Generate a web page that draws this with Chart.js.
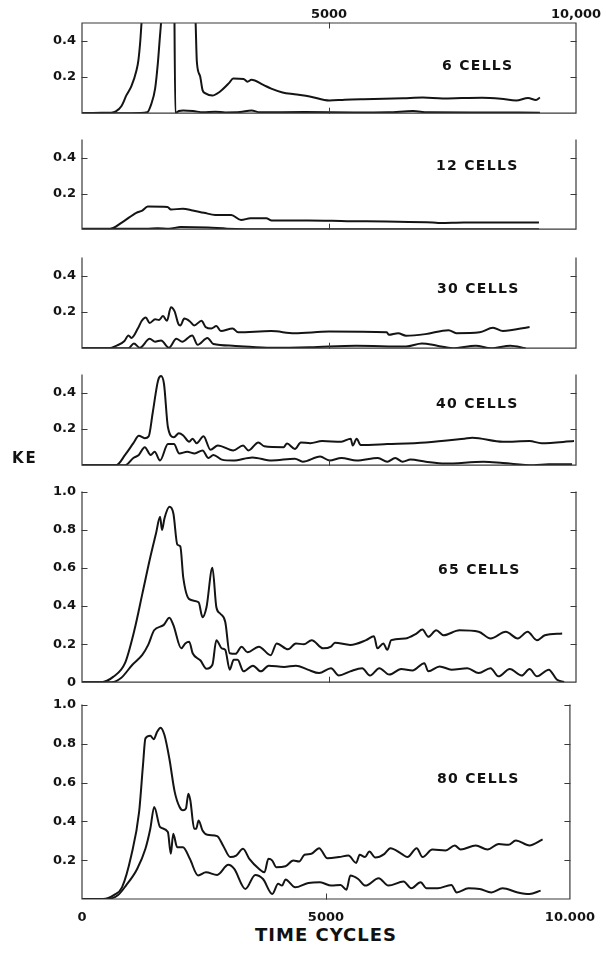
<!DOCTYPE html>
<html><head><meta charset="utf-8">
<script src="https://cdn.jsdelivr.net/npm/chart.js@4"></script>
<style>
html,body{margin:0;padding:0;background:#fff;}
body{width:606px;height:953px;position:relative;overflow:hidden;font-family:"DejaVu Sans",sans-serif;}
canvas.pc{position:absolute;left:0;}
.lbl{position:absolute;font-weight:bold;color:#111;white-space:nowrap;line-height:1;}
</style></head><body>
<canvas class="pc" id="c1"></canvas>
<canvas class="pc" id="c2"></canvas>
<canvas class="pc" id="c3"></canvas>
<canvas class="pc" id="c4"></canvas>
<canvas class="pc" id="c5"></canvas>
<canvas class="pc" id="c6"></canvas>
<div class="lbl" style="left:442px;top:58px;font-size:14px;letter-spacing:1.3px">6 CELLS</div>
<div class="lbl" style="left:436px;top:158px;font-size:14px;letter-spacing:1.3px">12 CELLS</div>
<div class="lbl" style="left:437px;top:281px;font-size:14px;letter-spacing:1.3px">30 CELLS</div>
<div class="lbl" style="left:436px;top:396px;font-size:14px;letter-spacing:1.3px">40 CELLS</div>
<div class="lbl" style="left:438px;top:562px;font-size:14px;letter-spacing:1.3px">65 CELLS</div>
<div class="lbl" style="left:437px;top:771px;font-size:14px;letter-spacing:1.3px">80 CELLS</div>
<div class="lbl" style="left:12px;top:451px;font-size:15px;letter-spacing:2px">KE</div>
<div class="lbl" style="left:255px;top:926px;font-size:18px;letter-spacing:1px">TIME CYCLES</div>
<script>
// ---------- data ----------
const xTickValsTop = [5000, 10000];
const xTickValsBottom = [0, 5000, 10000];
const yTicksSmall = [0.2, 0.4];
const yTicksBig5 = [0, 0.2, 0.4, 0.6, 0.8, 1.0];
const yTicksBig6 = [0.2, 0.4, 0.6, 0.8, 1.0];

// 6 cells
const p1UpperX = [0,400,590,685,800,900,1000,1105,1140,1180,1205,1300,1700,2250,2300,2325,2390,2440,2500,2640,2790,2980,3060,3270,3350,3430,3670,3830,4060,4300,4610,5010,5320,5700,6110,6500,6900,7300,7690,8100,8480,8790,9030,9190,9270];
const p1UpperY = [0,0.002,0.003,0.01,0.04,0.1,0.15,0.24,0.29,0.4,0.5,0.8,1.0,0.8,0.5,0.285,0.206,0.128,0.11,0.098,0.119,0.168,0.192,0.189,0.175,0.185,0.157,0.136,0.115,0.105,0.093,0.07,0.075,0.078,0.08,0.083,0.087,0.082,0.084,0.086,0.08,0.07,0.084,0.073,0.087];
const p1LowerX = [0,1000,1320,1400,1480,1535,1575,1600,1660,1760,1850,1860,1890,1960,2050,2250,2450,2700,2900,3200,3430,3600,4500,5500,6200,6700,7000,8000,9270];
const p1LowerY = [0,0,0.005,0.049,0.136,0.276,0.416,0.5,0.75,0.9,0.95,0.9,0,0.012,0.015,0.012,0.005,0.008,0.004,0.006,0.015,0.005,0.006,0.004,0.005,0.012,0.005,0.004,0.003];

// 12 cells
const p2UpperX = [0,550,820,1100,1220,1330,1730,1800,2040,2240,2470,2700,3020,3220,3410,3730,3840,4590,5370,6160,7100,7250,7730,9250];
const p2UpperY = [0,0,0.04,0.092,0.104,0.127,0.125,0.11,0.115,0.105,0.092,0.08,0.08,0.052,0.061,0.061,0.049,0.049,0.045,0.043,0.038,0.035,0.038,0.037];
const p2LowerX = [0,1300,1530,1760,2000,2550,2940,3800,9250];
const p2LowerY = [0.002,0.002,0.006,0.003,0.012,0.009,0.003,0,0];

// 30 cells
const p3UpperX = [0,550,700,860,940,1000,1130,1210,1290,1370,1480,1560,1640,1720,1800,1875,1950,1990,2070,2190,2270,2420,2500,2620,2720,2810,3050,3160,3830,4300,5000,6170,6210,6400,6560,6950,7420,7580,8050,8320,8520,9060];
const p3UpperY = [0,0,0.014,0.04,0.071,0.057,0.109,0.152,0.17,0.14,0.16,0.157,0.178,0.152,0.227,0.204,0.135,0.126,0.164,0.147,0.126,0.152,0.118,0.109,0.123,0.095,0.109,0.088,0.095,0.083,0.092,0.088,0.074,0.083,0.069,0.078,0.1,0.083,0.088,0.113,0.095,0.118];
const p3LowerX = [0,940,1050,1170,1370,1480,1600,1760,1910,2030,2230,2340,2540,2660,3050,3830,4610,5550,6560,6880,7190,7500,7970,8280,8670,8980];
const p3LowerY = [0,0,0.026,0.002,0.052,0.036,0.043,0.002,0.052,0.036,0.071,0.019,0.057,0.023,0.014,0.002,0.005,0.014,0.009,0.026,0.014,0,0.014,0,0.014,0];

// 40 cells
const p4UpperX = [0,690,880,1040,1150,1270,1350,1430,1540,1600,1660,1740,1860,1960,2050,2170,2240,2320,2460,2600,2750,3060,3260,3370,3570,3690,4080,4150,4310,4430,4620,4860,5250,5440,5480,5560,5640,6180,6960,7740,7900,8520,9060,9300,9960];
const p4UpperY = [0,0,0.06,0.122,0.163,0.15,0.16,0.288,0.47,0.494,0.45,0.21,0.155,0.177,0.165,0.13,0.147,0.122,0.16,0.086,0.109,0.082,0.109,0.082,0.126,0.105,0.1,0.12,0.09,0.126,0.122,0.134,0.13,0.147,0.109,0.147,0.112,0.117,0.126,0.147,0.152,0.13,0.134,0.122,0.134];
const p4LowerX = [0,880,1040,1150,1270,1390,1470,1580,1740,1860,1970,2130,2280,2440,2560,2660,2830,3060,3450,3840,4310,4470,4820,5010,5250,5560,5990,6180,6340,6490,6650,6960,7350,8130,8520,9140,9450,9920];
const p4LowerY = [0,0,0.04,0.057,0.1,0.057,0.074,0.026,0.117,0.117,0.065,0.074,0.065,0.082,0.04,0.057,0.031,0.026,0.043,0.026,0.036,0.019,0.048,0.026,0.04,0.026,0.04,0.019,0.04,0.019,0.031,0.019,0.009,0.019,0.012,0,0.005,0.005];

// 65 cells
const p5UpperX = [0,390,630,870,1060,1220,1380,1500,1580,1620,1670,1770,1850,1930,1990,2050,2170,2360,2440,2520,2640,2720,2800,2900,2990,3110,3230,3350,3580,3820,3940,4170,4330,4490,4650,4880,5040,5120,5430,5750,5910,5980,6100,6180,6260,6540,6770,6890,7010,7170,7320,7640,8030,8270,8580,8820,9020,9210,9370,9720];
const p5UpperY = [0,0,0.028,0.1,0.273,0.463,0.654,0.784,0.87,0.8,0.862,0.922,0.887,0.723,0.714,0.55,0.437,0.42,0.342,0.394,0.602,0.394,0.36,0.317,0.152,0.149,0.187,0.157,0.187,0.142,0.204,0.173,0.204,0.199,0.221,0.178,0.187,0.208,0.196,0.221,0.242,0.178,0.204,0.17,0.221,0.23,0.256,0.277,0.239,0.273,0.247,0.273,0.265,0.23,0.265,0.23,0.265,0.221,0.247,0.256];
const p5LowerX = [0,600,790,1020,1220,1340,1460,1650,1770,1850,2010,2090,2170,2240,2400,2520,2640,2720,2830,2900,2990,3070,3150,3270,3460,3620,3780,4090,4330,4570,4800,5040,5200,5430,5670,5830,6020,6220,6460,6690,6930,7010,7240,7480,7800,8030,8270,8430,8660,8900,9060,9210,9450,9610,9760];
const p5LowerY = [0,0,0.022,0.092,0.144,0.196,0.273,0.3,0.339,0.3,0.178,0.204,0.213,0.152,0.114,0.071,0.092,0.221,0.178,0.17,0.066,0.118,0.118,0.057,0.087,0.057,0.087,0.08,0.087,0.066,0.048,0.074,0.035,0.057,0.074,0.035,0.074,0.04,0.069,0.062,0.1,0.057,0.083,0.066,0.074,0.048,0.074,0.031,0.069,0.035,0.069,0.031,0.066,0.014,0];

// 80 cells
const p6UpperX = [0,430,660,820,1010,1170,1250,1300,1400,1470,1540,1610,1690,1790,1900,2000,2070,2130,2180,2220,2300,2340,2390,2470,2570,2770,2890,3040,3160,3300,3430,3630,3740,3820,3900,3980,4170,4330,4450,4560,4700,4860,5030,5270,5460,5620,5690,5800,5890,6010,6200,6320,6550,6670,6860,6980,7180,7450,7640,7760,8070,8310,8540,8740,8890,9170,9440];
const p6UpperY = [0,0,0.021,0.06,0.224,0.448,0.69,0.828,0.841,0.824,0.862,0.883,0.845,0.724,0.552,0.474,0.457,0.466,0.543,0.509,0.362,0.362,0.405,0.353,0.331,0.324,0.276,0.216,0.224,0.259,0.207,0.155,0.138,0.207,0.198,0.164,0.169,0.198,0.193,0.228,0.233,0.262,0.21,0.216,0.224,0.186,0.228,0.216,0.245,0.214,0.233,0.262,0.233,0.216,0.262,0.216,0.255,0.25,0.276,0.255,0.276,0.255,0.284,0.279,0.302,0.276,0.307];
const p6LowerX = [0,500,740,900,1130,1300,1400,1480,1600,1760,1820,1870,1950,2070,2210,2380,2540,2770,3000,3120,3350,3550,3710,3900,4020,4100,4170,4370,4640,4880,5110,5300,5420,5500,5660,5810,6080,6280,6590,6750,6940,7060,7290,7570,7680,7920,8150,8390,8620,8930,9170,9400];
const p6LowerY = [0,0,0.021,0.069,0.155,0.259,0.362,0.474,0.371,0.345,0.233,0.336,0.267,0.267,0.207,0.121,0.138,0.124,0.176,0.155,0.052,0.124,0.103,0.026,0.078,0.069,0.1,0.06,0.083,0.086,0.069,0.072,0.048,0.121,0.103,0.069,0.107,0.069,0.09,0.055,0.086,0.055,0.055,0.072,0.034,0.055,0.052,0.034,0.055,0.034,0.026,0.043];

// ---------- helpers ----------
function pts(xs, ys){ return xs.map((x,i)=>({x:x, y:ys[i]})); }
const INK = '#141414';
const AXIS = '#3a3a3a';
const TICKFONT = {family:'"DejaVu Sans", sans-serif', size:13, weight:'bold'};

const framePlugin = {
  id:'frame',
  afterDraw(chart, args, o){
    const ctx = chart.ctx, a = chart.chartArea, x = chart.scales.x, y = chart.scales.y;
    ctx.save();
    ctx.strokeStyle = AXIS; ctx.lineWidth = 1.2; ctx.lineCap='square';
    ctx.beginPath();
    ctx.moveTo(a.left, a.top); ctx.lineTo(a.left, a.bottom); ctx.lineTo(a.right, a.bottom); ctx.lineTo(a.right, a.top);
    if (o.topBorder) ctx.lineTo(a.left, a.top);
    ctx.stroke();
    ctx.lineWidth = 1;
    ctx.beginPath();
    o.yTicks.forEach(v => {
      const py = Math.round(y.getPixelForValue(v)) + 0.5;
      ctx.moveTo(a.left, py); ctx.lineTo(a.left + 5, py);
      ctx.moveTo(a.right, py); ctx.lineTo(a.right - 5, py);
    });
    const px = Math.round(x.getPixelForValue(5000)) + 0.5;
    ctx.moveTo(px, a.bottom); ctx.lineTo(px, a.bottom - 5);
    if (o.topBorder) { ctx.moveTo(px, a.top); ctx.lineTo(px, a.top + 5); }
    ctx.stroke();
    ctx.restore();
  }
};

function makePanel(id, canvasTop, canvasH, pad, ymax, yTicks, yLabelVals, upper, lower, xAxis, topBorder){
  const cv = document.getElementById(id);
  cv.width = 606; cv.height = canvasH;
  cv.style.top = canvasTop + 'px';
  cv.style.width = '606px'; cv.style.height = canvasH + 'px';
  const xOpts = {
    type:'linear', min:0, max:10000, display: !!xAxis,
    position: xAxis ? xAxis.pos : 'bottom',
    grid:{display:false, drawTicks:false}, border:{display:false},
    ticks:{font:TICKFONT, color:INK, padding: xAxis ? xAxis.padding : 0, maxRotation:0, autoSkip:false,
      callback: v => v === 10000 ? '10,000' : String(v)},
    afterBuildTicks: s => { if (xAxis) s.ticks = xAxis.vals.map(v => ({value:v})); },
    afterFit: s => { if (xAxis) s.height = xAxis.h; }
  };
  new Chart(cv.getContext('2d'), {
    type:'line',
    data:{datasets:[
      {data: pts(upper[0], upper[1]), borderColor:INK, borderWidth:2, pointRadius:0, fill:false, cubicInterpolationMode:'monotone'},
      {data: pts(lower[0], lower[1]), borderColor:INK, borderWidth:2, pointRadius:0, fill:false, cubicInterpolationMode:'monotone'}
    ]},
    options:{
      responsive:false, animation:false, devicePixelRatio:1,
      layout:{padding:pad},
      plugins:{legend:{display:false}, tooltip:{enabled:false}, frame:{yTicks:yTicks, topBorder:topBorder}},
      scales:{
        x: xOpts,
        y:{ min:0, max:ymax,
          grid:{display:false, drawTicks:false}, border:{display:false},
          ticks:{font:TICKFONT, color:INK, padding:6, callback: v => (v === 0 ? '0' : v.toFixed(1))},
          afterBuildTicks: s => { s.ticks = yLabelVals.map(v => ({value:v})); },
          afterFit: s => { s.width = 82; }
        }
      }
    },
    plugins:[framePlugin]
  });
}

// panel 1: x axis on top
makePanel('c1', 0, 127, {top:0, right:30, bottom:8, left:0}, 0.5, yTicksSmall, yTicksSmall,
  [p1UpperX, p1UpperY], [p1LowerX, p1LowerY], {pos:'top', vals:xTickValsTop, h:23, padding:1}, true);
makePanel('c2', 125, 118, {top:15, right:30, bottom:8, left:0}, 0.5, yTicksSmall, yTicksSmall,
  [p2UpperX, p2UpperY], [p2LowerX, p2LowerY], null, false);
makePanel('c3', 243, 119, {top:15, right:30, bottom:8, left:0}, 0.5, yTicksSmall, yTicksSmall,
  [p3UpperX, p3UpperY], [p3LowerX, p3LowerY], null, false);
makePanel('c4', 360, 119, {top:15, right:30, bottom:8, left:0}, 0.5, yTicksSmall, yTicksSmall,
  [p4UpperX, p4UpperY], [p4LowerX, p4LowerY], null, false);
makePanel('c5', 477, 219, {top:15, right:30, bottom:10, left:0}, 1.0, yTicksBig6, yTicksBig5,
  [p5UpperX, p5UpperY], [p5LowerX, p5LowerY], null, false);
makePanel('c6', 690, 231, {top:15, right:30, bottom:0, left:0}, 1.0, yTicksBig6, yTicksBig6,
  [p6UpperX, p6UpperY], [p6LowerX, p6LowerY], {pos:'bottom', vals:xTickValsBottom, h:22, padding:11}, false);
</script>
</body></html>
